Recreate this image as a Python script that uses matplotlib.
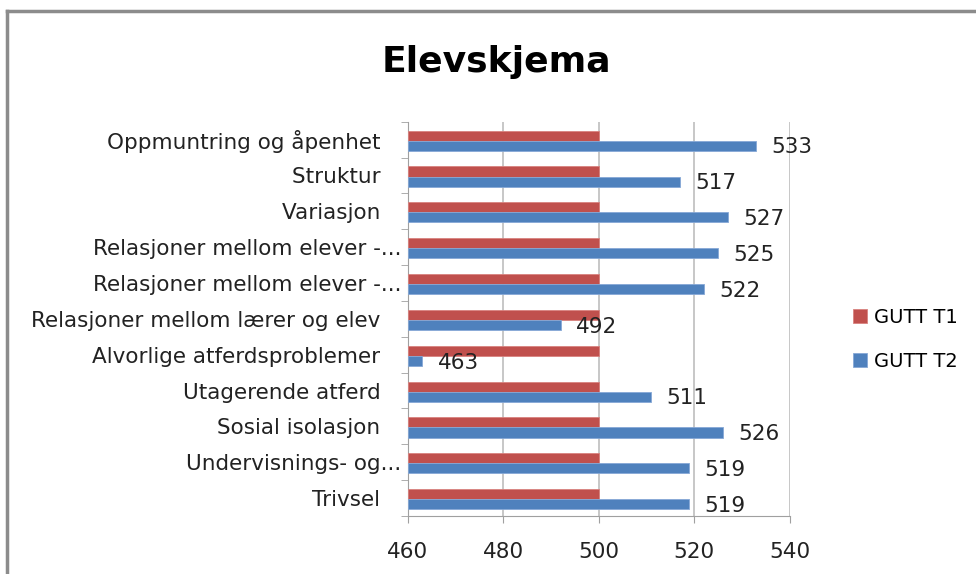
import matplotlib.pyplot as plt
from matplotlib.lines import Line2D
import numpy as np

plt.rcParams['font.family'] = ['DejaVu Sans']

# categories from bottom to top
categories = ['Trivsel   ', 'Undervisnings- og...', 'Sosial isolasjon   ', 'Utagerende atferd   ',
              'Alvorlige atferdsproblemer   ', 'Relasjoner mellom lærer og elev   ',
              'Relasjoner mellom elever -...', 'Relasjoner mellom elever -...',
              'Variasjon   ', 'Struktur   ', 'Oppmuntring og åpenhet   ']
gutt_t1 = [500, 500, 500, 500, 500, 500, 500, 500, 500, 500, 500]
gutt_t2 = [519, 519, 526, 511, 463, 492, 522, 525, 527, 517, 533]
xticks = [460, 480, 500, 520, 540]

red = '#C0504D'
blue = '#4F81BD'
xmin, xmax = 460, 540

fig = plt.figure(figsize=(9.76, 5.74), dpi=100)
ax = fig.add_axes([0.418, 0.101, 0.391, 0.687])

y = np.arange(len(categories))
h = 0.28
t1 = np.array(gutt_t1)
t2 = np.array(gutt_t2)
ax.barh(y + h / 2 - 0.03, t1 - xmin, left=xmin, height=h, color=red, edgecolor='#D9827F', linewidth=0.6,
        label='GUTT T1', zorder=3)
ax.barh(y - h / 2 - 0.03, t2 - xmin, left=xmin, height=h, color=blue, edgecolor='#86A8D6', linewidth=0.6,
        label='GUTT T2', zorder=3)

# value labels for T2
for yi, v in zip(y, gutt_t2):
    ax.annotate(str(v), (v, yi - h / 2 - 0.08), xytext=(11, 0), textcoords='offset points',
                ha='left', va='center', fontsize=15.5, color='#222222')

ax.set_xlim(xmin, xmax)
ax.set_ylim(-0.5, len(categories) - 0.5)
ax.set_xticks(xticks)
ax.set_xticklabels([str(t) for t in xticks], fontsize=15.5)
ax.set_yticks(y)
ax.set_yticklabels(categories, fontsize=15.5, color='#222222')
ax.tick_params(axis='y', length=0, pad=5)
ax.set_yticks(np.arange(-0.5, len(categories), 1), minor=True)
ax.tick_params(axis='y', which='minor', length=5, color='#A0A0A0')
ax.tick_params(axis='x', length=5, color='#A0A0A0', pad=14, labelcolor='#222222')

ax.grid(axis='x', color='#BEBEBE', linewidth=1.2, zorder=0)
ax.set_axisbelow(True)
for s in ['top', 'right']:
    ax.spines[s].set_visible(False)
ax.spines['left'].set_color('#A0A0A0')
ax.spines['bottom'].set_color('#A0A0A0')

fig.text(0.509, 0.892, 'Elevskjema', ha='center', va='center', fontsize=26, fontweight='bold')

fig.legend(loc='center left', bbox_to_anchor=(0.856, 0.409), frameon=False, fontsize=14,
           handlelength=0.7, handleheight=0.7, handletextpad=0.4, labelspacing=1.3)

# outer frame (top and left)
fig.add_artist(Line2D([0.007, 1.0], [0.980, 0.980], color='#8C8C8C', linewidth=2.5))
fig.add_artist(Line2D([0.007, 0.007], [0.0, 0.980], color='#8C8C8C', linewidth=2.5))

fig.savefig('out.png', dpi=100)
